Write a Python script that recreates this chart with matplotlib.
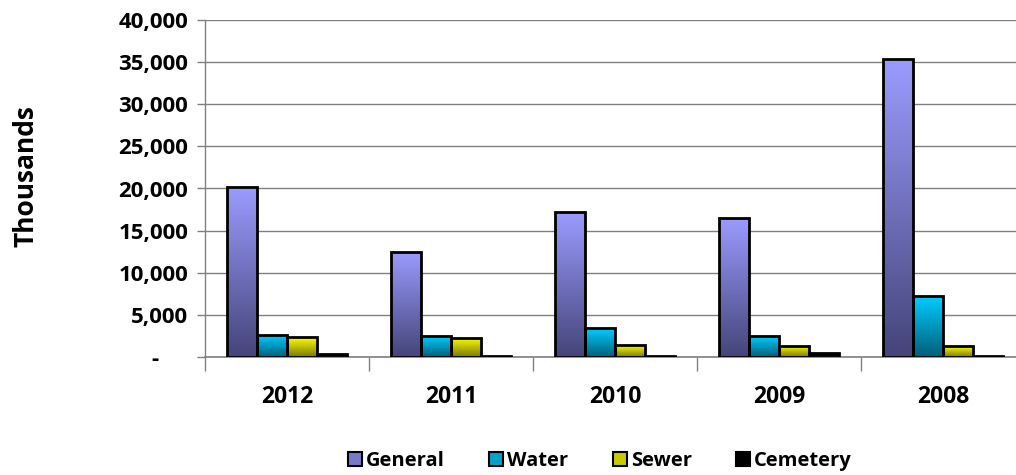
import numpy as np
import matplotlib.pyplot as plt
from matplotlib.colors import LinearSegmentedColormap
from matplotlib.patches import Rectangle
from matplotlib.ticker import FuncFormatter

years = ['2012', '2011', '2010', '2009', '2008']
series = ['General', 'Water', 'Sewer', 'Cemetery']
general = [20200, 12500, 17200, 16500, 35400]
water = [2600, 2450, 3400, 2450, 7200]
sewer = [2350, 2300, 1400, 1350, 1250]
cemetery = [400, 60, 60, 450, 60]

# top colour, bottom colour
grads = [('#9b9bff', '#45457a'), ('#00ccff', '#00607a'),
         ('#ffff00', '#7a7a00'), ('#000000', '#000000')]

plt.rcParams['font.family'] = ['Open Sans', 'DejaVu Sans']
plt.rcParams['font.weight'] = 'bold'

fig = plt.figure(figsize=(10.16, 4.75), dpi=100)
ax = fig.add_axes([205/1016, (475-357)/475, 820/1016, 337/475])

x = np.arange(len(years))
w = 0.183
data = [general, water, sewer, cemetery]
for i, vals in enumerate(data):
    pos = x - 1.5*w + i*w
    bars = ax.bar(pos, vals, w, color='none', edgecolor='black', linewidth=2, zorder=3, label=series[i])
    cmap = LinearSegmentedColormap.from_list('g%d' % i, [grads[i][1], grads[i][0]])
    for b in bars:
        bx, by = b.get_x(), b.get_y()
        bw, bh = b.get_width(), b.get_height()
        grad = np.linspace(0, 1, 100).reshape(-1, 1)
        im = ax.imshow(grad, cmap=cmap, origin='lower', aspect='auto',
                       extent=[bx, bx+bw, by, by+bh], zorder=2)
        im.set_clip_path(b)

ax.set_xlim(-0.5, len(years)-0.5)
ax.set_ylim(0, 40000)
ax.set_yticks(np.arange(0, 40001, 5000))
ax.yaxis.set_major_formatter(FuncFormatter(lambda v, p: '-     ' if v == 0 else '{:,.0f}'.format(v)))
ax.set_xticks(x)
ax.set_xticklabels(years)
ax.set_xticks(np.arange(-0.5, len(years), 1), minor=True)
ax.tick_params(axis='x', which='major', length=0, pad=20, labelsize=16.5)
ax.tick_params(axis='x', which='minor', length=10, width=1, color='#808080')
ax.tick_params(axis='y', length=6, width=1, color='#808080', labelsize=16, pad=6)
ax.grid(axis='y', color='#808080', linewidth=1, zorder=0)
ax.set_axisbelow(True)
for s in ['top', 'right']:
    ax.spines[s].set_visible(False)
ax.spines['left'].set_color('#808080')
ax.spines['bottom'].set_color('#808080')
ax.spines['left'].set_linewidth(1)
ax.spines['bottom'].set_linewidth(1.2)

fig.text(26/1016, 1 - 176/475, 'Thousands', rotation=90, ha='center', va='center',
         fontsize=19, fontweight='bold')

handles = [Rectangle((0, 0), 1, 1, facecolor=c[0] if i == 3 else
                     LinearSegmentedColormap.from_list('h', [c[1], c[0]])(0.6),
                     edgecolor='black', linewidth=1.5) for i, c in enumerate(grads)]
fig.legend(handles, series, loc='center', bbox_to_anchor=(600/1016, 1 - 461/475),
           ncol=4, frameon=False, fontsize=14.5, handlelength=0.7, handleheight=0.7,
           handletextpad=0.2, columnspacing=2.2)

fig.savefig('out.png', dpi=100)
